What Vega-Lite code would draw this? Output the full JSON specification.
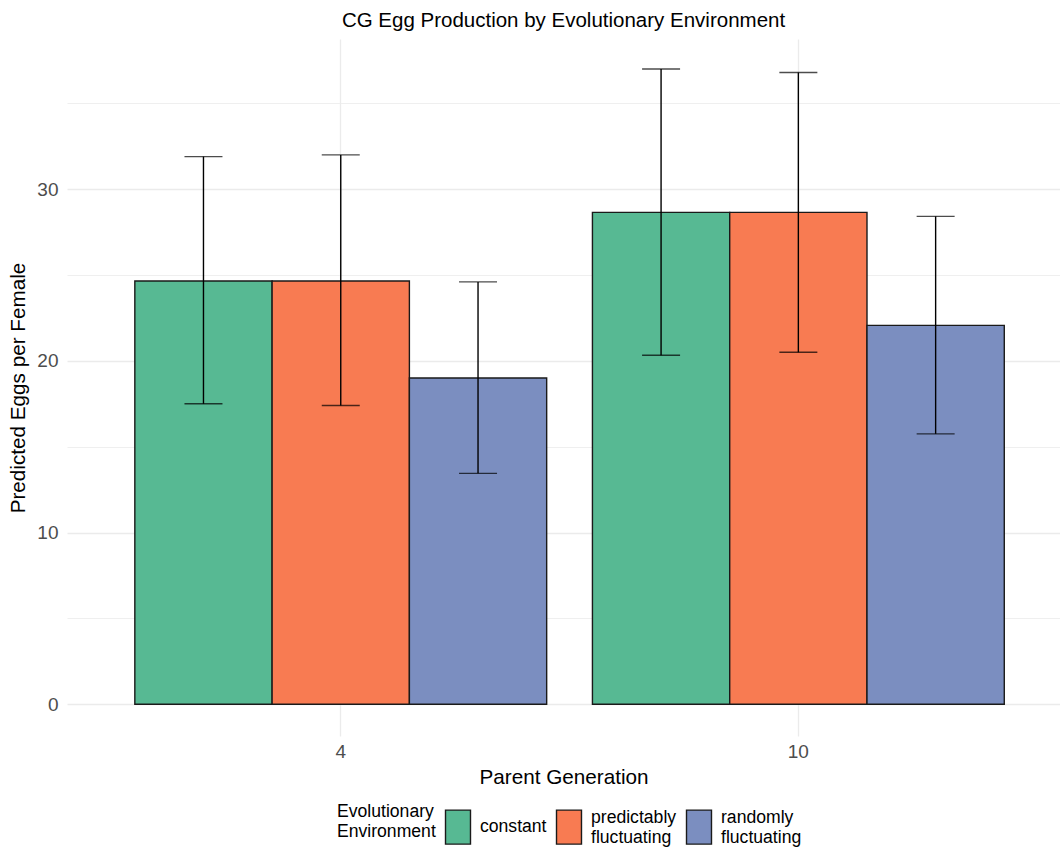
{
  "$schema": "https://vega.github.io/schema/vega-lite/v6.json",
  "autosize": {"type": "none"},
  "padding": {"left": 67, "top": 39, "right": 0, "bottom": 112},
  "width": 993,
  "height": 697,
  "background": "white",
  "config": {
    "font": "Liberation Sans",
    "view": {"stroke": null}
  },
  "title": {
    "text": "CG Egg Production by Evolutionary Environment",
    "fontSize": 20.5,
    "fontWeight": "normal",
    "color": "black",
    "anchor": "middle",
    "font": "Liberation Sans",
    "offset": 8
  },
  "data": {
    "values": [
      {"gen": "4", "env": "constant", "mean": 24.65, "lo": 17.5, "hi": 31.9},
      {"gen": "4", "env": "predictably fluctuating", "mean": 24.65, "lo": 17.4, "hi": 32.0},
      {"gen": "4", "env": "randomly fluctuating", "mean": 19.0, "lo": 13.45, "hi": 24.6},
      {"gen": "10", "env": "constant", "mean": 28.65, "lo": 20.33, "hi": 37.0},
      {"gen": "10", "env": "predictably fluctuating", "mean": 28.65, "lo": 20.5, "hi": 36.8},
      {"gen": "10", "env": "randomly fluctuating", "mean": 22.07, "lo": 15.75, "hi": 28.42}
    ]
  },
  "encoding": {
    "x": {
      "field": "gen",
      "type": "nominal",
      "scale": {"domain": ["4", "10"], "paddingInner": 0.1, "paddingOuter": 0.135, "align": 0.549},
      "axis": {
        "title": "Parent Generation",
        "labelAngle": 0,
        "grid": true,
        "gridColor": "#EBEBEB",
        "gridWidth": 1.3,
        "ticks": false,
        "domain": false,
        "labelFontSize": 19,
        "labelColor": "#4D4D4D",
        "labelPadding": 6,
        "titleFontSize": 20.7,
        "titleFontWeight": "normal",
        "titleColor": "black",
        "titlePadding": 6
      }
    },
    "xOffset": {
      "field": "env",
      "type": "nominal",
      "scale": {"domain": ["constant", "predictably fluctuating", "randomly fluctuating"], "paddingInner": 0, "paddingOuter": 0}
    }
  },
  "layer": [
    {
      "mark": {"type": "bar", "stroke": "#1A1A1A", "strokeWidth": 1.4},
      "encoding": {
        "y": {
          "field": "mean",
          "type": "quantitative",
          "scale": {"domain": [-1.85, 38.75], "nice": false, "zero": false},
          "axis": {
            "title": "Predicted Eggs per Female",
            "values": [0, 5, 10, 15, 20, 25, 30, 35],
            "labelExpr": "datum.value % 10 == 0 ? datum.label : ''",
            "grid": true,
            "gridColor": "#EBEBEB",
            "gridWidth": {"condition": {"test": "datum.value % 10 == 0", "value": 1.3}, "value": 0.8},
            "ticks": false,
            "domain": false,
            "labelFontSize": 19,
            "labelColor": "#4D4D4D",
            "labelPadding": 9,
            "titleFontSize": 20.7,
            "titleFontWeight": "normal",
            "titleColor": "black",
            "titlePadding": 8
          }
        },
        "y2": {"datum": 0},
        "color": {
          "field": "env",
          "type": "nominal",
          "scale": {
            "domain": ["constant", "predictably fluctuating", "randomly fluctuating"],
            "range": ["#57B993", "#F87B52", "#7B8EC0"]
          },
          "legend": {
            "title": ["Evolutionary", "Environment"],
            "orient": "none",
            "legendX": 270,
            "legendY": 770,
            "direction": "horizontal",
            "titleOrient": "left",
            "titleFontSize": 17.6,
            "titleFontWeight": "normal",
            "titleColor": "black",
            "titlePadding": 4,
            "labelFontSize": 17.6,
            "labelColor": "black",
            "labelExpr": "split(datum.label, ' ')",
            "labelOffset": 4,
            "columnPadding": 4,
            "symbolType": "M-0.735,-1H0.735V1H-0.735Z",
            "symbolSize": 1156,
            "symbolStrokeColor": "#1A1A1A",
            "symbolStrokeWidth": 1.4,
            "symbolOpacity": 1,
            "padding": 0,
            "encoding": {
              "labels": {
                "dy": {"condition": {"test": "indexof(datum.value, ' ') >= 0", "value": -9}, "value": 0}
              },
              "title": {
                "dy": {"value": -6}
              }
            }
          }
        }
      }
    },
    {
      "mark": {"type": "rule", "color": "black", "strokeWidth": 1.4},
      "encoding": {
        "y": {"field": "lo", "type": "quantitative"},
        "y2": {"field": "hi"}
      }
    },
    {
      "mark": {"type": "tick", "color": "black", "size": 38, "thickness": 1.4, "orient": "horizontal"},
      "encoding": {
        "y": {"field": "lo", "type": "quantitative"}
      }
    },
    {
      "mark": {"type": "tick", "color": "black", "size": 38, "thickness": 1.4, "orient": "horizontal"},
      "encoding": {
        "y": {"field": "hi", "type": "quantitative"}
      }
    }
  ]
}
